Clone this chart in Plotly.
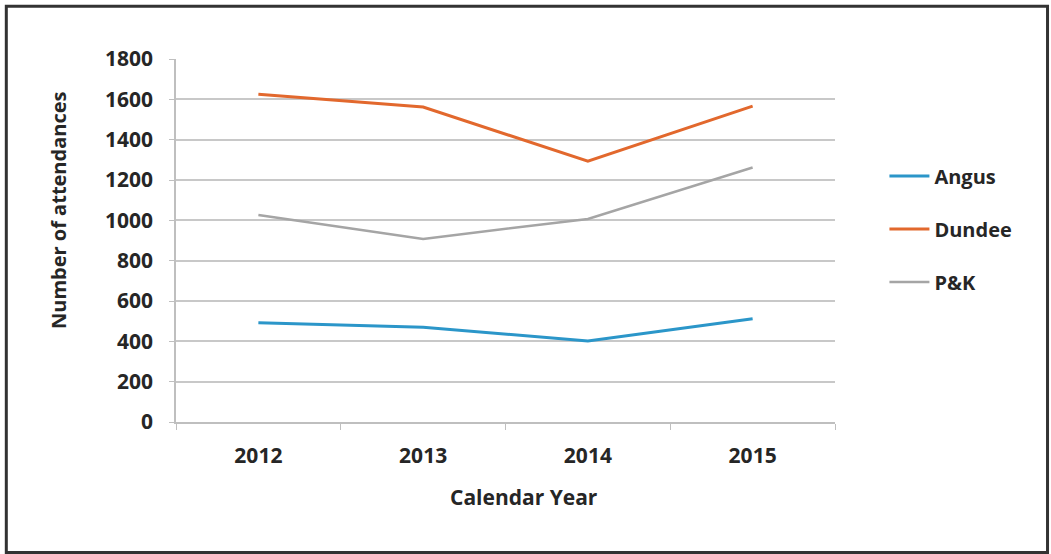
import plotly.graph_objects as go

years = ["2012", "2013", "2014", "2015"]
angus = [492, 470, 402, 512]
dundee = [1625, 1562, 1293, 1566]
pk = [1027, 908, 1007, 1262]

y_ticks = [0, 200, 400, 600, 800, 1000, 1200, 1400, 1600, 1800]

series = [("Angus", angus, "#2b96c9"), ("Dundee", dundee, "#e2682d"), ("P&K", pk, "#a5a5a5")]

fig = go.Figure()
for name, vals, col in series:
    fig.add_trace(go.Scatter(x=years, y=vals, mode="lines", name=name,
                             legendgroup=name,
                             line=dict(color=col, width=3 if name != "P&K" else 2.5)))

font_family = "'Open Sans', sans-serif"
txt = "#262626"
fig.update_layout(
    width=1051, height=554,
    margin=dict(l=176, r=216, t=59, b=132),
    paper_bgcolor="white", plot_bgcolor="white",
    font=dict(family=font_family, size=20, color=txt),
    showlegend=True,
    legend=dict(x=1.075, y=0.532, xanchor="left", yanchor="middle",
                font=dict(size=20, color=txt, family=font_family, weight="bold"),
                tracegroupgap=24, itemwidth=40, bgcolor="rgba(0,0,0,0)"),
    xaxis=dict(type="category", showgrid=False, showline=True, linecolor="#bfbfbf", linewidth=1.5,
               ticks="outside", tickson="boundaries", ticklen=6, tickcolor="#bfbfbf",
               ticklabelstandoff=14,
               tickfont=dict(size=21, weight="bold", color=txt),
               range=[-0.5, 3.5]),
    yaxis=dict(range=[0, 1800], tickvals=y_ticks, showgrid=True, gridcolor="#c8c8c8", gridwidth=1.5,
               showline=True, linecolor="#bfbfbf", linewidth=1.5,
               ticks="outside", ticklen=5, tickcolor="#bfbfbf", zeroline=False,
               ticklabelstandoff=12,
               tickfont=dict(size=21, weight="bold", color=txt)),
    annotations=[
        dict(text="Calendar Year", xref="paper", yref="paper",
             x=(524 - 176) / 659, y=-(497 - 422) / 363, xanchor="center", yanchor="middle",
             showarrow=False, font=dict(size=21, weight="bold", color=txt)),
        dict(text="Number of attendances", xref="paper", yref="paper",
             x=-(176 - 58) / 659, y=(422 - 210) / 363, xanchor="center", yanchor="middle",
             textangle=-90, showarrow=False, font=dict(size=20, weight="bold", color=txt)),
    ],
)

fig.add_shape(type="rect", xref="paper", yref="paper",
              x0=-0.2575, x1=1.3225, y0=-0.3595, y1=1.1455,
              line=dict(color="#333333", width=3))

fig.write_html("out.html")
